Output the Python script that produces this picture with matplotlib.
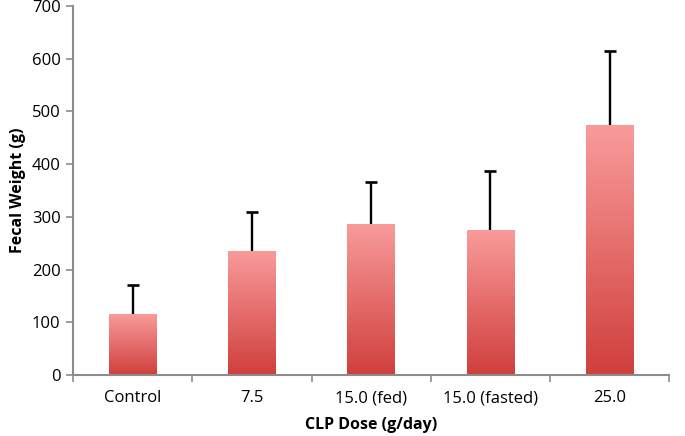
import matplotlib
matplotlib.use("Agg")
import matplotlib.pyplot as plt
import numpy as np
from matplotlib.colors import LinearSegmentedColormap

categories = ["Control", "7.5", "15.0 (fed)", "15.0 (fasted)", "25.0"]
means = [115, 236, 287, 276, 474]
upper_err = [56, 73, 79, 111, 141]
yticks = [0, 100, 200, 300, 400, 500, 600, 700]

plt.rcParams['font.family'] = ['Open Sans', 'DejaVu Sans']

fig = plt.figure(figsize=(6.85, 4.36), dpi=100)
ax = fig.add_axes([0.1066, 0.140, 0.8704, 0.846])

x = np.arange(len(categories))
bars = ax.bar(x, means, width=0.4, color='none', edgecolor='none', zorder=2)

cmap = LinearSegmentedColormap.from_list("g", ["#D03F3C", "#F99B9B"])
grad = np.linspace(0, 1, 256).reshape(-1, 1)
for b in bars:
    x0, y0 = b.get_x(), b.get_y()
    w, h = b.get_width(), b.get_height()
    im = ax.imshow(grad, cmap=cmap, origin='lower', aspect='auto',
                   extent=[x0, x0 + w, y0, y0 + h], zorder=2)
    im.set_clip_path(b)

tops = np.array(means) + np.array(upper_err)
ax.vlines(x, means, tops, color='black', linewidth=1.7, zorder=3)
ax.plot(x, tops, linestyle='none', marker='_', markersize=8, markeredgewidth=1.9,
        color='black', zorder=3)

ax.set_xlim(-0.5, len(categories) - 0.5)
ax.set_ylim(0, 700)
ax.set_yticks(yticks)
ax.set_xticks(x)
ax.set_xticklabels(categories)
ax.set_xticks(np.arange(-0.5, len(categories)), minor=True)
ax.tick_params(axis='x', which='major', length=0, pad=11, labelsize=12)
ax.tick_params(axis='x', which='minor', length=5, color='#8c8c8c', width=1.2, direction='out')
ax.tick_params(axis='y', length=5, color='#8c8c8c', width=1.2, direction='out', labelsize=12, pad=4)

for s in ['top', 'right']:
    ax.spines[s].set_visible(False)
for s in ['left', 'bottom']:
    ax.spines[s].set_color('#8c8c8c')
    ax.spines[s].set_linewidth(1.5)

ax.set_ylabel("Fecal Weight (g)", fontweight='bold', fontsize=11.5, labelpad=4)
ax.set_xlabel("CLP Dose (g/day)", fontweight='bold', fontsize=11.5, labelpad=8)

fig.savefig("out.png", dpi=100)
